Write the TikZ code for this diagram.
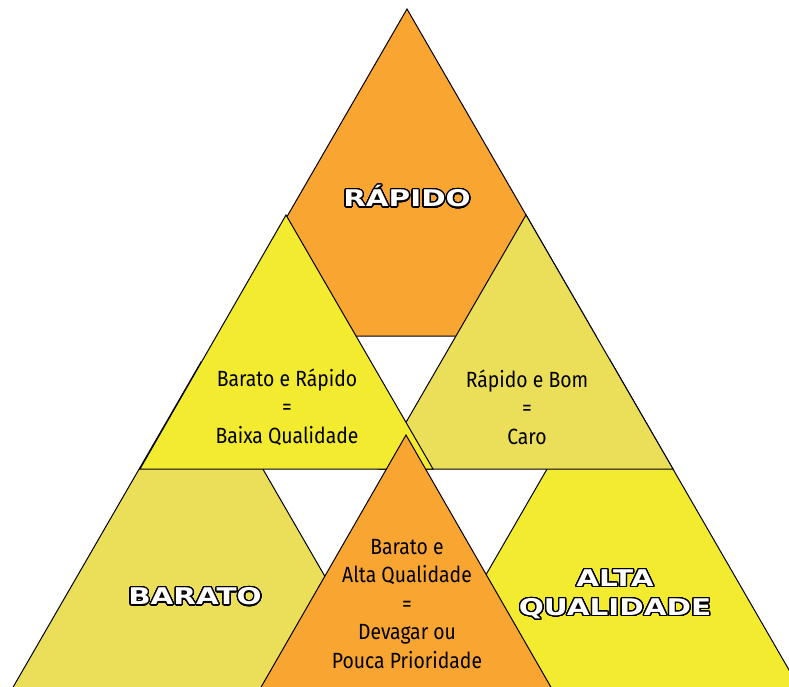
\documentclass[tikz,border=0pt]{standalone}
\usepackage{fontspec}
\usepackage[copies]{contour}
\newfontfamily\labelfont{DejaVu Sans}[FakeStretch=1.28]
\newfontfamily\notefont{Fira Sans}[FakeStretch=0.88]
\definecolor{orangeshape}{RGB}{249,165,50}
\definecolor{yellowshape}{RGB}{243,235,47}
\definecolor{khakishape}{RGB}{235,223,90}
\contourlength{1.3pt}
\contournumber{32}
\newcommand{\biglabel}[1]{\contour{black}{\textcolor{white}{#1}}}
\tikzset{
  piece/.style={draw=black,line width=1pt,line join=miter},
  note/.style={inner sep=0pt,align=center,font={\notefont\fontsize{22}{28.5}\selectfont}},
  bigword/.style={inner sep=0pt,align=center,font={\labelfont\bfseries\fontsize{23}{29}\selectfont}}
}
\begin{document}
\begin{tikzpicture}[x=1pt,y=1pt,yscale=-1,xscale=1]
\useasboundingbox (0,0) rectangle (789,687);
\clip (0,0) rectangle (789,687);

%Shape: Triangle top (Rapido)
\draw [piece,fill=orangeshape] (407,9) -- (596,336) -- (218,336) -- cycle ;
%Shape: Triangle bottom left (Barato)
\draw [piece,fill=khakishape] (201,362) -- (390,689) -- (12,689) -- cycle ;
%Shape: Triangle bottom right (Alta Qualidade)
\draw [piece,fill=yellowshape] (610,360) -- (800,689) -- (420,689) -- cycle ;
%Shape: Triangle middle right
\draw [piece,fill=khakishape] (526,215) -- (673,469) -- (379,469) -- cycle ;
%Shape: Triangle middle left
\draw [piece,fill=yellowshape] (286,215) -- (433,469) -- (140,469) -- cycle ;
%Shape: Triangle bottom centre
\draw [piece,fill=orangeshape] (406,435) -- (552,689) -- (260,689) -- cycle ;

% Text Node
\node [bigword] (rapido) at (407,197) {\biglabel{RÁPIDO}};
% Text Node
\node [bigword] (barato) at (195,597) {\biglabel{BARATO}};
% Text Node
\node [bigword] (alta) at (615,595) {\biglabel{ALTA}\\\biglabel{QUALIDADE}};
% Text Node
\node [note] (baratorapido) at (287,407) {Barato e Rápido\\=\\Baixa Qualidade};
% Text Node
\node [note] (rapidobom) at (527,407) {Rápido e Bom\\=\\Caro};
% Text Node
\node [note] (baratoalta) at (407,604) {Barato e\\Alta Qualidade\\=\\Devagar ou\\Pouca Prioridade};

\end{tikzpicture}
\end{document}
